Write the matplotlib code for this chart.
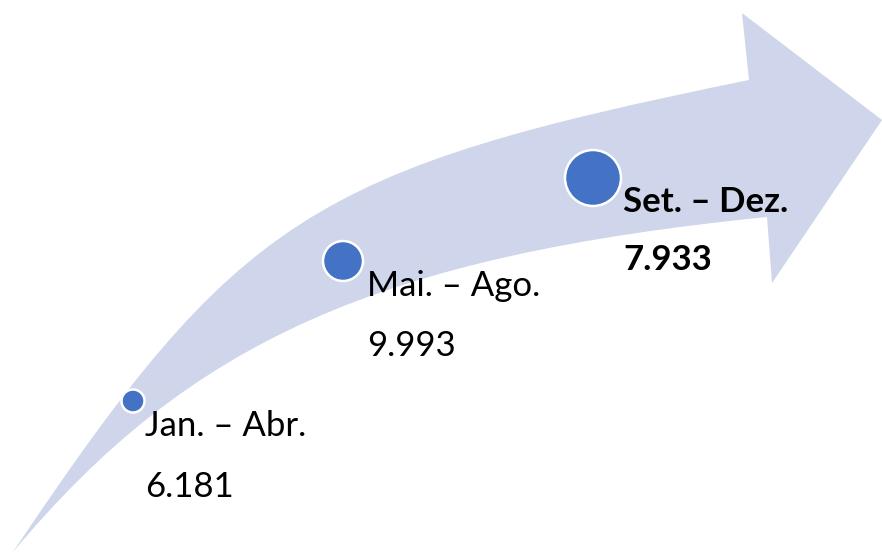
import matplotlib.pyplot as plt
from matplotlib.path import Path
from matplotlib.patches import PathPatch, Circle

# Data
periods = ['Jan. – Abr.', 'Mai. – Ago.', 'Set. – Dez.']
values = ['6.181', '9.993', '7.933']
bold = [False, False, True]

# layout (pixel coords of the 882x555 picture)
dot_x = [133, 343, 593]
dot_y = [401, 261, 178]
dot_r = [11.5, 20, 28]
label_x = [145, 367, 623]
label_base = [436, 296, 212]
line_gap = [61, 60, 58]

arrow_col = '#CFD5EA'
dot_col = '#4472C4'

fig = plt.figure(figsize=(8.82, 5.55), dpi=100)
ax = fig.add_axes([0, 0, 1, 1])
ax.set_xlim(0, 882)
ax.set_ylim(555, 0)
ax.axis('off')

# curved arrow
verts = [(13, 552), (238, 216), (312, 169), (749, 80),
         (742, 13), (882, 120), (772, 283), (767, 217),
         (380, 256), (190, 340), (13, 552), (13, 552)]
codes = [Path.MOVETO, Path.CURVE4, Path.CURVE4, Path.CURVE4,
         Path.LINETO, Path.LINETO, Path.LINETO, Path.LINETO,
         Path.CURVE4, Path.CURVE4, Path.CURVE4, Path.CLOSEPOLY]
ax.add_patch(PathPatch(Path(verts, codes), facecolor=arrow_col, edgecolor='none'))

for i in range(len(periods)):
    ax.add_patch(Circle((dot_x[i], dot_y[i]), dot_r[i], facecolor=dot_col,
                        edgecolor='white', linewidth=1.8, zorder=3))
    w = 'bold' if bold[i] else 'normal'
    ax.text(label_x[i], label_base[i], periods[i], fontsize=25, family='Lato',
            fontweight=w, va='baseline', ha='left', color='black', zorder=4)
    ax.text(label_x[i], label_base[i] + line_gap[i], values[i], fontsize=25,
            family='Lato', fontweight=w, va='baseline', ha='left', color='black', zorder=4)

fig.savefig('out.png', dpi=100)
